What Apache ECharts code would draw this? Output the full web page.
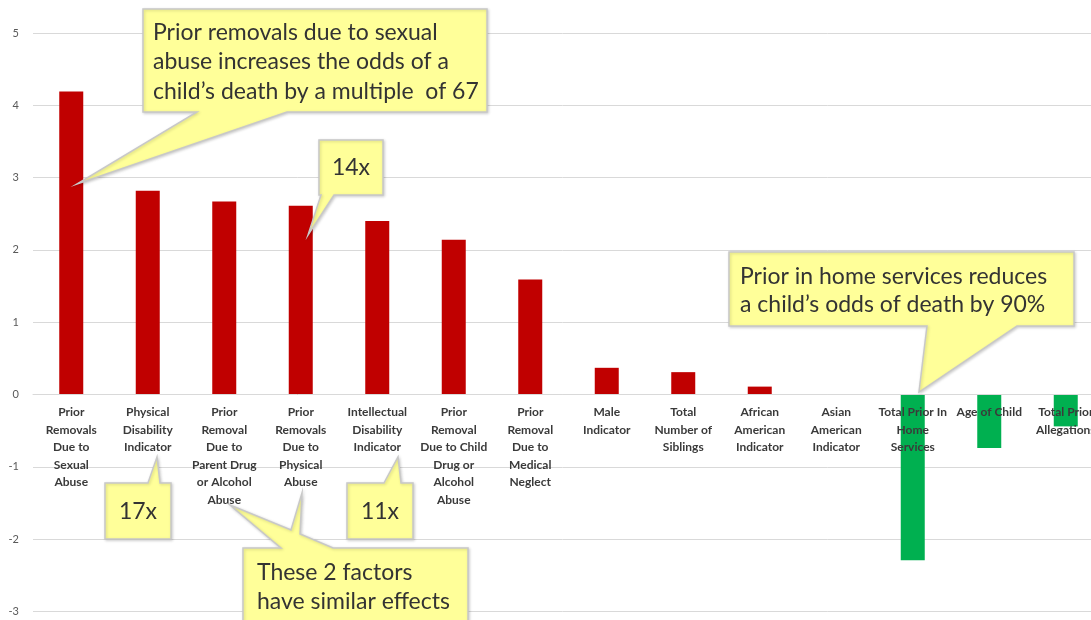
<!DOCTYPE html>
<html>
<head>
<meta charset="utf-8">
<script src="https://cdn.jsdelivr.net/npm/echarts@6/dist/echarts.min.js"></script>
<style>
html,body{margin:0;padding:0;background:#fff;}
#chart{width:1091px;height:620px;}
</style>
</head>
<body>
<div id="chart"></div>
<script>
const categories = [
  'Prior\nRemovals\nDue to\nSexual\nAbuse',
  'Physical\nDisability\nIndicator',
  'Prior\nRemoval\nDue to\nParent Drug\nor Alcohol\nAbuse',
  'Prior\nRemovals\nDue to\nPhysical\nAbuse',
  'Intellectual\nDisability\nIndicator',
  'Prior\nRemoval\nDue to Child\nDrug or\nAlcohol\nAbuse',
  'Prior\nRemoval\nDue to\nMedical\nNeglect',
  'Male\nIndicator',
  'Total\nNumber of\nSiblings',
  'African\nAmerican\nIndicator',
  'Asian\nAmerican\nIndicator',
  'Total Prior In\nHome\nServices',
  'Age of Child',
  'Total Prior\nAllegations'
];
const values = [4.19, 2.82, 2.67, 2.61, 2.40, 2.14, 1.59, 0.37, 0.31, 0.11, 0, -2.29, -0.74, -0.44];
const yTicks = { min: -3, max: 5, interval: 1 };

const POS = '#C00000', NEG = '#00B050';
const FILL = '#FFFF99', STROKE = '#C8C8C8';
const FONT = 'Lato, Calibri, "Open Sans", sans-serif';

const W = 1091, H = 620;
const GRID = { left: 33, right: -13, top: 33, bottom: 8.5 };
// place the category axis (and its labels) on the zero line of the value scale
const gridH = H - GRID.top - GRID.bottom;
const zeroOffset = gridH * (0 - yTicks.min) / (yTicks.max - yTicks.min);

function callout(points, z) {
  return {
    type: 'polygon', z: z || 100,
    shape: { points: points },
    style: { fill: FILL, stroke: STROKE, lineWidth: 1.5,
      shadowBlur: 3, shadowColor: 'rgba(0,0,0,0.18)', shadowOffsetX: 1, shadowOffsetY: 1 }
  };
}
function label(x, y, text, size, lh, align) {
  return {
    type: 'text', z: 101, x: x, y: y,
    style: { text: text, fontSize: size, fontFamily: FONT, fill: '#333', lineHeight: lh,
      align: align || 'left', verticalAlign: 'middle' }
  };
}

const chart = echarts.init(document.getElementById('chart'));
chart.setOption({
  animation: false,
  backgroundColor: '#fff',
  grid: Object.assign({ containLabel: false, outerBoundsMode: 'none' }, GRID),
  xAxis: {
    type: 'category', data: categories, z: 5,
    position: 'bottom', offset: -zeroOffset,
    axisLine: { onZero: false, lineStyle: { color: '#D9D9D9', width: 1 } },
    axisTick: { show: false },
    axisLabel: { interval: 0, hideOverlap: false, margin: 9, fontFamily: FONT, fontWeight: 'bold',
      fontSize: 12, color: '#3A3A3A', lineHeight: 17.5, verticalAlign: 'top' }
  },
  yAxis: {
    type: 'value', min: yTicks.min, max: yTicks.max, interval: yTicks.interval,
    axisLine: { show: false }, axisTick: { show: false },
    splitLine: { lineStyle: { color: '#D9D9D9', width: 1 } },
    axisLabel: { margin: 14, fontFamily: FONT, fontSize: 11, color: '#595959' }
  },
  series: [{
    type: 'bar', barWidth: 24,
    data: values,
    itemStyle: { color: function (p) { return p.value >= 0 ? POS : NEG; } }
  }],
  graphic: [
    callout([[143,9],[487,9],[487,112],[287,112],[77,184],[197,112],[143,112]]),
    label(153, 62, 'Prior removals due to sexual\nabuse increases the odds of a\nchild\u2019s death by a multiple  of 67', 23, 29.5),
    callout([[319,140],[383,140],[383,195],[334,195],[308,235],[321,195],[319,195]]),
    label(351, 168, '14x', 23, 28, 'center'),
    callout([[105,483],[148,483],[157,457],[160,483],[171,483],[171,539],[105,539]]),
    label(138, 512, '17x', 23, 28, 'center'),
    callout([[347,483],[384,483],[398,457],[401,483],[413,483],[413,539],[347,539]]),
    label(380, 512, '11x', 23, 28, 'center'),
    callout([[243,548],[281,548],[230,505],[291,530],[302,493],[300,534],[333,548],[468,548],[468,630],[243,630]]),
    label(257, 587, 'These 2 factors\nhave similar effects', 23, 29),
    callout([[729,252],[1074,252],[1074,326],[1017,326],[919,392],[927,326],[729,326]]),
    label(740, 291, 'Prior in home services reduces\na child\u2019s odds of death by 90%', 23, 28)
  ]
});
</script>
</body>
</html>
